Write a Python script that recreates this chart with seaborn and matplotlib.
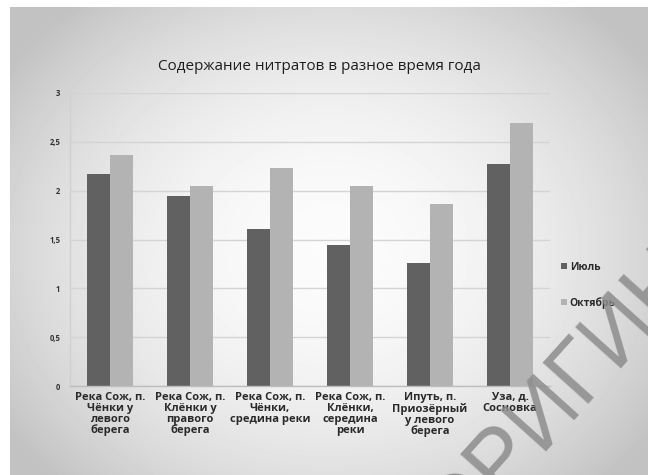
import numpy as np
import pandas as pd
import matplotlib
matplotlib.use("Agg")
import matplotlib.pyplot as plt
import seaborn as sns
from matplotlib.ticker import FixedLocator, FuncFormatter

sites = [
    "Река Сож, п.\nЧёнки у\nлевого\nберега",
    "Река Сож, п.\nКлёнки у\nправого\nберега",
    "Река Сож, п.\nЧёнки,\nсредина реки",
    "Река Сож, п.\nКлёнки,\nсередина\nреки",
    "Ипуть, п.\nПриозёрный\nу левого\nберега",
    "Уза, д.\nСосновка",
]
july = [2.17, 1.95, 1.61, 1.44, 1.26, 2.27]
october = [2.37, 2.05, 2.23, 2.05, 1.86, 2.69]
seasons = ["Июль", "Октябрь"]
y_ticks = [0, 0.5, 1, 1.5, 2, 2.5, 3]
title = "Содержание нитратов в разное время года"
watermark = "ОРИГИНАЛ"

df = pd.DataFrame({
    "site": sites * 2,
    "season": [seasons[0]] * len(sites) + [seasons[1]] * len(sites),
    "value": july + october,
})

sns.set_theme(style="white")
plt.rcParams["font.family"] = ["Open Sans", "DejaVu Sans"]

W, H = 648, 475
fig = plt.figure(figsize=(W / 100, H / 100), dpi=100)

# soft grey vignette behind the chart
yy, xx = np.mgrid[0:H, 0:W]
rx = (xx - 330) / 350.0
ry = (yy - 250) / 290.0
r2 = rx ** 2 + ry ** 2
shade = 0.985 - 0.18 * r2
shade = np.clip(shade, 0.76, 0.99)
shade[:7, :] = 1.0
shade[:, :10] = 1.0
bg = fig.add_axes([0, 0, 1, 1], zorder=-10)
bg.imshow(shade, cmap="gray", vmin=0, vmax=1, aspect="auto", interpolation="bilinear")
bg.set_axis_off()

ax = fig.add_axes([70 / W, 1 - 386 / H, 480 / W, 293 / H])
ax.set_facecolor("none")

sns.barplot(
    data=df, x="site", y="value", hue="season",
    palette=["#616161", "#b3b3b3"], width=0.57, gap=0,
    saturation=1, ax=ax, legend=True, edgecolor="none",
)

ax.set_ylim(0, 3)
ax.set_xlim(-0.5, len(sites) - 0.5)
ax.yaxis.set_major_locator(FixedLocator(y_ticks))
ax.yaxis.set_major_formatter(FuncFormatter(lambda v, p: f"{v:g}".replace(".", ",")))
ax.grid(axis="y", color="#d4d4d4", linewidth=1.0)
ax.set_axisbelow(True)
ax.set_xlabel("")
ax.set_ylabel("")

for s in ["top", "right"]:
    ax.spines[s].set_visible(False)
ax.spines["left"].set_color("#d0d0d0")
ax.spines["bottom"].set_color("#bdbdbd")
ax.spines["left"].set_linewidth(1.0)
ax.spines["bottom"].set_linewidth(1.0)

ax.tick_params(axis="y", length=0, pad=7, labelsize=5.5, labelcolor="#333333")
for lbl in ax.get_yticklabels():
    lbl.set_fontweight("bold")
ax.set_xticks(range(len(sites)))
ax.set_xticklabels(sites, fontsize=8, fontweight="bold", color="#2a2a2a",
                   linespacing=1.0, va="top")
ax.tick_params(axis="x", length=0, pad=4)
ax.set_xticks(np.arange(-0.5, len(sites), 1.0), minor=True)
ax.tick_params(axis="x", which="minor", length=4, color="#bdbdbd", width=1)

handles, labels = ax.get_legend_handles_labels()
ax.legend(handles, labels, loc="upper left", bbox_to_anchor=(561 / W, 1 - 262 / H),
          bbox_transform=fig.transFigure, frameon=False, fontsize=7.5,
          handlelength=0.55, handleheight=0.55, handletextpad=0.3,
          labelspacing=2.3, borderaxespad=0, borderpad=0)
for t in ax.get_legend().get_texts():
    t.set_fontweight("bold")
    t.set_color("#2a2a2a")

fig.text(319 / W, 1 - 66 / H, title, ha="center", va="center",
         fontsize=11, color="#1e1e1e")

fig.text(455 / W, 1 - 548 / H, watermark, rotation=48, rotation_mode="anchor",
         ha="left", va="baseline", fontsize=64, family="Liberation Sans",
         color="#8c8c8c", alpha=0.85, zorder=20)

fig.savefig("out.png", dpi=100)
